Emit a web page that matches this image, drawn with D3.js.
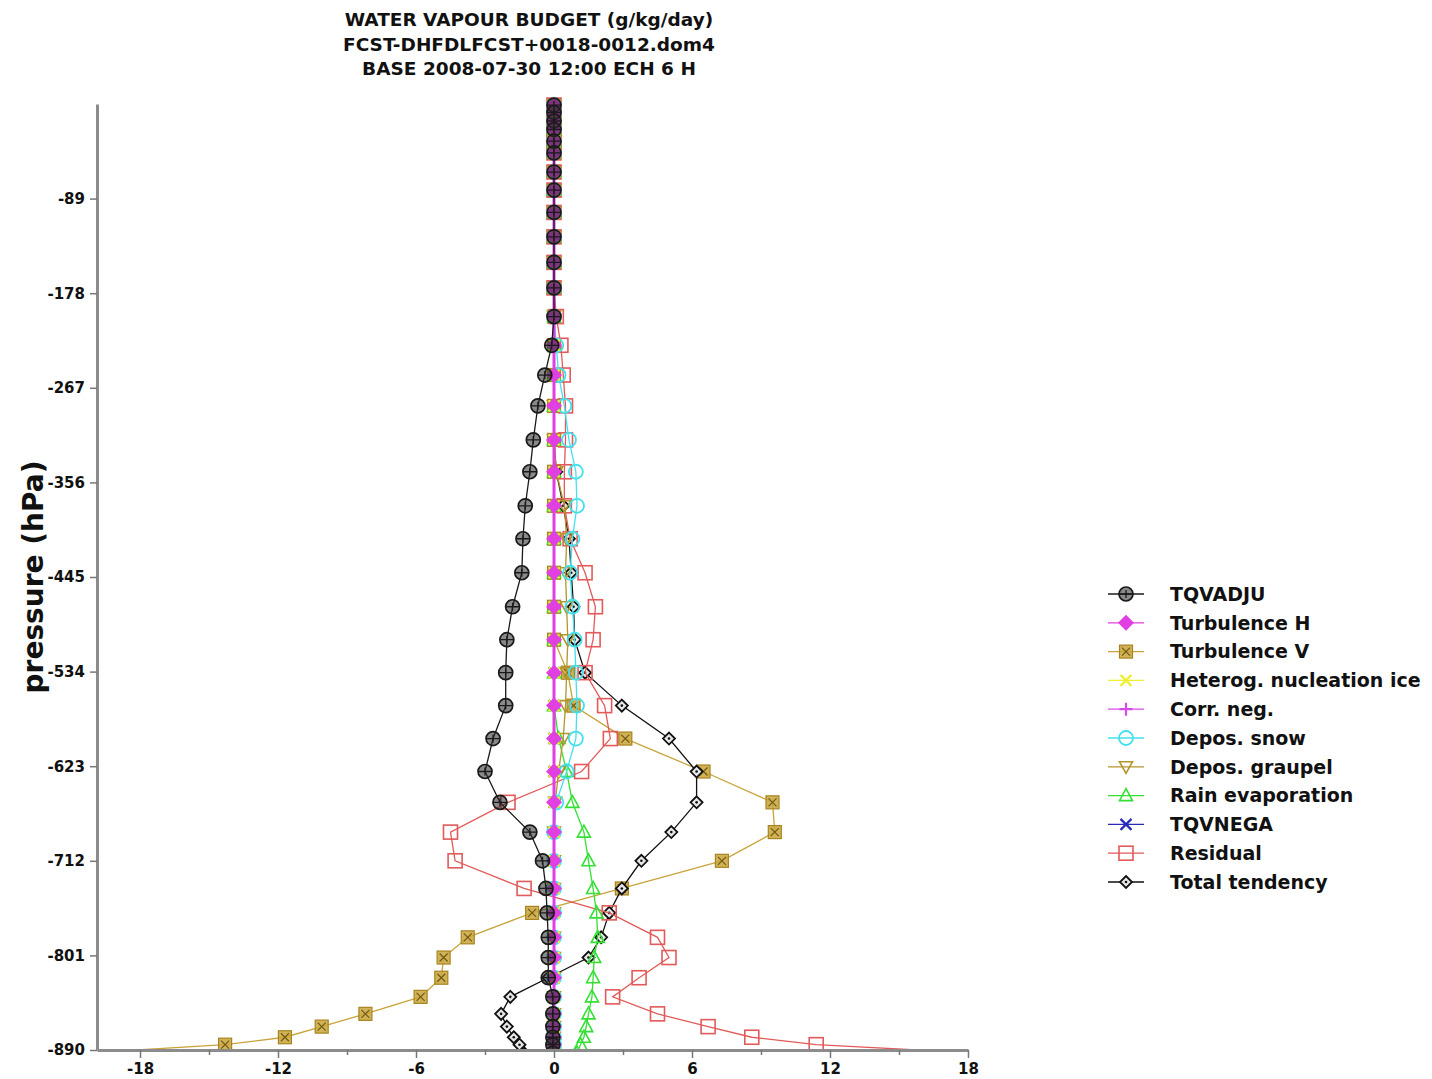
<!DOCTYPE html>
<html>
<head>
<meta charset="utf-8">
<script src="https://cdn.jsdelivr.net/npm/d3@7"></script>
<style>
  body { margin: 0; background: #fff; }
  text { font-family: "DejaVu Sans", sans-serif; font-weight: bold; fill: #111; }
</style>
</head>
<body>
<div id="chart"></div>
<script>
// ---- data ----
const titleLines = ["WATER VAPOUR BUDGET (g/kg/day)", "FCST-DHFDLFCST+0018-0012.dom4", "BASE 2008-07-30 12:00 ECH 6 H"];
const yLabel = "pressure (hPa)";

const xTicks = [-18, -12, -6, 0, 6, 12, 18];
const xTickLabels = ["-18", "-12", "-6", "0", "6", "12", "18"];
const xMinorTicks = [-15, -9, -3, 3, 9, 15];
const yTicks = [-89, -178, -267, -356, -445, -534, -623, -712, -801, -890];
const yTickLabels = ["-89", "-178", "-267", "-356", "-445", "-534", "-623", "-712", "-801", "-890"];

// model levels (hPa, plotted negative)
const levels = [-1, -8, -16, -24, -35, -46, -64, -81, -102, -125, -149, -173, -200, -227, -255, -284, -316, -346, -378, -409,
  -441, -473, -504, -535, -566, -597, -628, -657, -685, -712, -738, -761, -784, -803, -822, -840, -856, -868, -878, -885, -893];

const seriesNames = ["TQVADJU", "Turbulence H", "Turbulence V", "Heterog. nucleation ice", "Corr. neg.",
  "Depos. snow", "Depos. graupel", "Rain evaporation", "TQVNEGA", "Residual", "Total tendency"];

const tqvadju = [0, 0, 0, 0, 0, 0, 0, 0, 0, 0, 0, 0, 0, -0.1, -0.4, -0.7, -0.9, -1.05, -1.25, -1.35,
  -1.4, -1.8, -2.05, -2.1, -2.1, -2.65, -3.0, -2.35, -1.05, -0.5, -0.35, -0.3, -0.25, -0.25, -0.25, -0.05, -0.05, -0.05, -0.05, -0.05, -0.05];
const turbH = [0, 0, 0, 0, 0, 0, 0, 0, 0, 0, 0, 0, 0, 0, 0, 0, 0, 0, 0, 0,
  0, 0, 0, 0, 0, 0, 0, 0, 0, 0, 0, 0, 0, 0, 0, 0, 0, 0, 0, 0, 0];
const turbV = [0, 0, 0, 0, 0, 0, 0, 0, 0, 0, 0, 0, 0, 0, 0, 0, 0, 0, 0, 0,
  0, 0, 0, 0.6, 0.85, 3.1, 6.5, 9.5, 9.6, 7.3, 2.95, -0.95, -3.75, -4.8, -4.9, -5.8, -8.2, -10.1, -11.7, -14.3, -20.5];
const hetNuc = [0, 0, 0, 0, 0, 0, 0, 0, 0, 0, 0, 0, 0, 0, 0, 0, 0, 0, 0, 0,
  0, 0, 0, 0, 0, 0, 0, 0, 0, 0, 0, 0, 0, 0, 0, 0, 0, 0, 0, 0, 0];
const corrNeg = [0, 0, 0, 0, 0, 0, 0, 0, 0, 0, 0, 0, 0, 0, 0, 0, 0, 0, 0, 0,
  0, 0, 0, 0, 0, 0, 0, 0, 0, 0, 0, 0, 0, 0, 0, 0, 0, 0, 0, 0, 0];
const deposSnow = [0, 0, 0, 0, 0, 0, 0, 0, 0, 0, 0, 0, 0, 0.1, 0.2, 0.45, 0.65, 0.95, 1.0, 0.8,
  0.7, 0.8, 0.9, 0.95, 1.0, 0.95, 0.55, 0.1, 0, 0, 0, 0, 0, 0, 0, 0, 0, 0, 0, 0, 0];
const deposGraupel = [0, 0, 0, 0, 0, 0, 0, 0, 0, 0, 0, 0, 0, 0, 0, 0, 0, 0.1, 0.45, 0.55,
  0.5, 0.55, 0.6, 0.55, 0.5, 0.4, 0.2, 0.05, 0, 0, 0, 0, 0, 0, 0, 0, 0, 0, 0, 0, 0];
const rainEvap = [0, 0, 0, 0, 0, 0, 0, 0, 0, 0, 0, 0, 0, 0, 0, 0, 0, 0, 0, 0,
  0, 0, 0, 0, 0, 0.2, 0.55, 0.8, 1.3, 1.5, 1.7, 1.85, 1.9, 1.75, 1.7, 1.65, 1.5, 1.4, 1.3, 1.15, 1.0];
const tqvnega = [0, 0, 0, 0, 0, 0, 0, 0, 0, 0, 0, 0, 0, 0, 0, 0, 0, 0, 0, 0,
  0, 0, 0, 0, 0, 0, 0, 0, 0, 0, 0, 0, 0, 0, 0, 0, 0, 0, 0, 0, 0];
const residual = [0, 0, 0, 0, 0, 0, 0, 0, 0, 0, 0, 0, 0.1, 0.3, 0.4, 0.5, 0.5, 0.45, 0.45, 0.7,
  1.35, 1.8, 1.7, 1.35, 2.2, 2.45, 1.2, -2.0, -4.5, -4.3, -1.3, 2.4, 4.5, 5.0, 3.7, 2.55, 4.5, 6.7, 8.6, 11.4, 18.5];
const totalTend = [0, 0, 0, 0, 0, 0, 0, 0, 0, 0, 0, 0, 0, 0, 0, 0, 0, 0.1, 0.4, 0.65,
  0.75, 0.85, 0.9, 1.35, 2.95, 5.0, 6.2, 6.2, 5.1, 3.8, 2.95, 2.4, 2.05, 1.5, -0.25, -1.9, -2.3, -2.05, -1.75, -1.5, -1.3];

const seriesValues = [tqvadju, turbH, turbV, hetNuc, corrNeg, deposSnow, deposGraupel, rainEvap, tqvnega, residual, totalTend];

// ---- styles ----
const styles = [
  {color: "#1a1a1a", marker: "circlePlus"},
  {color: "#e23fe2", marker: "diamond"},
  {color: "#c9a43a", marker: "squareX"},
  {color: "#eef030", marker: "x"},
  {color: "#d64ae8", marker: "plus"},
  {color: "#45e0ee", marker: "circle"},
  {color: "#b3952e", marker: "triDown"},
  {color: "#33e033", marker: "triUp"},
  {color: "#2a2ab8", marker: "x"},
  {color: "#e25a5a", marker: "square"},
  {color: "#111111", marker: "smallDiamond"}
];
// drawing order, bottom to top
const drawOrder = [2, 10, 9, 8, 7, 6, 5, 3, 4, 1, 0];

const width = 1432, height = 1079;
const plot = {left: 97, right: 968, top: 104, bottom: 1050};

const svg = d3.select("#chart")
  .append("svg")
    .attr("width", width)
    .attr("height", height);

const x = d3.scaleLinear().domain([-19.87, 18]).range([plot.left, plot.right]);
const y = d3.scaleLinear().domain([0, -890]).range([plot.top, plot.bottom]);

// title
svg.append("g").selectAll("text")
  .data(titleLines)
  .join("text")
    .attr("x", 529)
    .attr("y", (d, i) => 26 + i * 24.5)
    .attr("text-anchor", "middle")
    .style("font-size", "18.5px")
    .text(d => d);

// y label
svg.append("text")
  .attr("transform", "rotate(-90)")
  .attr("x", -577)
  .attr("y", 43)
  .attr("text-anchor", "middle")
  .style("font-size", "28px")
  .text(yLabel);

// clip for the data
svg.append("clipPath").attr("id", "clip")
  .append("rect")
    .attr("x", plot.left).attr("y", 80)
    .attr("width", plot.right - plot.left).attr("height", plot.bottom - 80);

// marker drawing
function drawMarker(g, type, color) {
  if (type === "circlePlus") {
    g.append("circle").attr("r", 7).attr("fill", "#2a2a2a").attr("fill-opacity", 0.55)
      .attr("stroke", color).attr("stroke-width", 1.7);
    g.append("path").attr("d", "M-6.5,0H6.5M0,-4V4").attr("stroke", color).attr("stroke-width", 1.3);
  } else if (type === "diamond") {
    g.append("path").attr("d", "M0,-8L8,0L0,8L-8,0Z").attr("fill", color);
  } else if (type === "squareX") {
    g.append("rect").attr("x", -6.5).attr("y", -6.5).attr("width", 13).attr("height", 13)
      .attr("fill", color).attr("fill-opacity", 0.85).attr("stroke", "#a88420").attr("stroke-width", 1.2);
    g.append("path").attr("d", "M-4,-4L4,4M-4,4L4,-4").attr("stroke", "#6f5a14").attr("stroke-width", 1.2);
  } else if (type === "x") {
    g.append("path").attr("d", "M-5.5,-5.5L5.5,5.5M-5.5,5.5L5.5,-5.5").attr("stroke", color).attr("stroke-width", 2.2);
  } else if (type === "plus") {
    g.append("path").attr("d", "M-6.5,0H6.5M0,-6.5V6.5").attr("stroke", color).attr("stroke-width", 2.2);
  } else if (type === "circle") {
    g.append("circle").attr("r", 7).attr("fill", "none").attr("stroke", color).attr("stroke-width", 1.8);
  } else if (type === "triDown") {
    g.append("path").attr("d", "M0,6.5L6.5,-5L-6.5,-5Z").attr("fill", "none").attr("stroke", color).attr("stroke-width", 1.6);
  } else if (type === "triUp") {
    g.append("path").attr("d", "M0,-7L6.5,5L-6.5,5Z").attr("fill", "none").attr("stroke", color).attr("stroke-width", 1.6);
  } else if (type === "square") {
    g.append("rect").attr("x", -7).attr("y", -7).attr("width", 14).attr("height", 14)
      .attr("fill", "none").attr("stroke", color).attr("stroke-width", 1.6);
  } else if (type === "smallDiamond") {
    g.append("path").attr("d", "M0,-6L6,0L0,6L-6,0Z").attr("fill", "#e8e8e8")
      .attr("stroke", color).attr("stroke-width", 1.8);
    g.append("circle").attr("r", 1.3).attr("fill", color);
  }
}

// Add the lines and markers
const dataLayer = svg.append("g").attr("clip-path", "url(#clip)");
const line = d3.line()
  .x(d => x(d.v))
  .y(d => y(d.p));

drawOrder.forEach(function(k) {
  const pts = levels.map((p, i) => ({p: p, v: seriesValues[k][i]}));
  const st = styles[k];
  const g = dataLayer.append("g");
  g.append("path")
    .datum(pts)
    .attr("fill", "none")
    .attr("stroke", st.color)
    .attr("stroke-width", k === 1 || k === 4 ? 2.6 : 1.3)
    .attr("d", line);
  g.selectAll("g.mk")
    .data(pts)
    .join("g")
      .attr("class", "mk")
      .attr("transform", d => `translate(${x(d.v)},${y(d.p)})`)
      .each(function() { drawMarker(d3.select(this), st.marker, st.color); });
});

// Add X axis
svg.append("g")
  .attr("transform", `translate(0, ${plot.bottom})`)
  .call(d3.axisBottom(x).tickValues(xTicks).tickSize(8).tickSizeOuter(0).tickPadding(5)
    .tickFormat((d, i) => xTickLabels[i]));
svg.append("g")
  .attr("transform", `translate(0, ${plot.bottom})`)
  .call(d3.axisBottom(x).tickValues(xMinorTicks).tickSize(5).tickFormat(""))
  .call(g => g.select(".domain").remove());

// Add Y axis
svg.append("g")
  .attr("transform", `translate(${plot.left}, 0)`)
  .call(d3.axisLeft(y).tickValues(yTicks).tickSize(7).tickSizeOuter(0).tickPadding(5)
    .tickFormat((d, i) => yTickLabels[i]));

svg.selectAll(".domain").attr("stroke", "#8c8c8c").attr("stroke-width", 3);
svg.selectAll(".tick line").attr("stroke", "#777").attr("stroke-width", 1.5);
svg.selectAll(".tick text")
  .style("font-family", '"DejaVu Sans", sans-serif')
  .style("font-weight", "bold")
  .style("font-size", "15px")
  .attr("fill", "#111");

// Legend
const legend = svg.append("g").attr("transform", "translate(1108, 594)");
const rows = legend.selectAll("g")
  .data(seriesNames)
  .join("g")
    .attr("transform", (d, i) => `translate(0, ${i * 28.8})`);
rows.append("line")
  .attr("x1", 0).attr("x2", 36)
  .attr("stroke", (d, i) => styles[i].color)
  .attr("stroke-width", 1.3);
rows.append("g")
  .attr("transform", "translate(18,0)")
  .each(function(d, i) { drawMarker(d3.select(this), styles[i].marker, styles[i].color); });
rows.append("text")
  .attr("x", 62)
  .attr("dy", "0.36em")
  .style("font-size", "19px")
  .text(d => d);
</script>
</body>
</html>
